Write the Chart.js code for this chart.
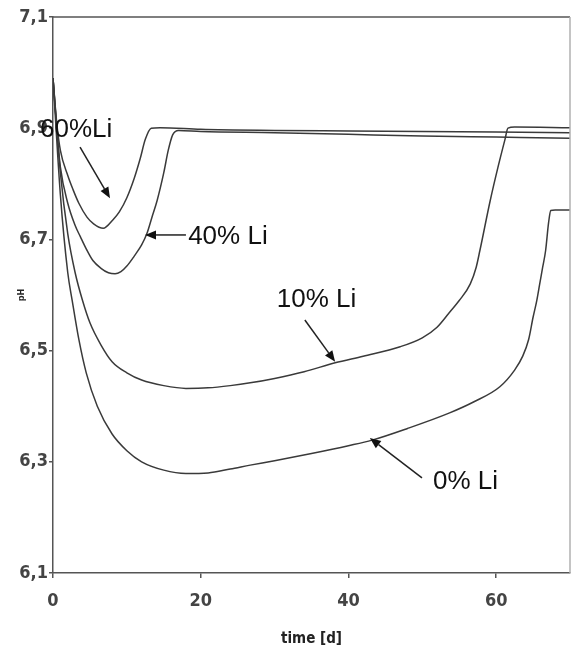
<!DOCTYPE html>
<html>
<head>
<meta charset="utf-8">
<script src="https://cdn.jsdelivr.net/npm/chart.js@4"></script>
<style>
  html, body { margin: 0; padding: 0; background: #fff; }
  canvas { display: block; }
</style>
</head>
<body>
<canvas id="phChart" width="571" height="652"></canvas>
<script>
// ticks
const xTicks = [0, 20, 40, 60];
const yTicks = [6.1, 6.3, 6.5, 6.7, 6.9, 7.1];

// 60% Li
const li60Time = [0, 0.5, 1, 2, 2.7, 3.5, 4.6, 5.5, 6.8, 8.1, 9, 10, 11, 11.8, 12.5, 13.3, 14.5, 20, 30, 40, 50, 60, 70];
const li60Ph = [6.99, 6.91, 6.86, 6.815, 6.79, 6.765, 6.74, 6.728, 6.72, 6.735, 6.75, 6.775, 6.81, 6.845, 6.88, 6.9, 6.901, 6.898, 6.896, 6.895, 6.894, 6.893, 6.892];

// 40% Li
const li40Time = [0, 0.5, 1, 2, 3, 3.7, 4.5, 5.4, 6.5, 7.5, 8.4, 9.2, 10, 11, 12, 12.7, 13.4, 14.1, 15, 15.6, 16.2, 17, 20, 30, 40, 50, 60, 70];
const li40Ph = [6.99, 6.9, 6.83, 6.765, 6.725, 6.705, 6.683, 6.662, 6.648, 6.64, 6.638, 6.642, 6.652, 6.67, 6.69, 6.71, 6.74, 6.77, 6.82, 6.86, 6.888, 6.896, 6.894, 6.892, 6.889, 6.886, 6.884, 6.882];

// 10% Li
const li10Time = [0, 1, 2, 3, 4, 5, 6.5, 8, 10, 12, 15, 18, 21, 24, 26.7, 30, 34, 38.2, 42, 47, 50, 52, 53.7, 55, 56.5, 57.3, 57.8, 59.2, 60.25, 61.2, 61.6, 62.5, 70];
const li10Ph = [6.99, 6.82, 6.71, 6.64, 6.59, 6.55, 6.51, 6.48, 6.46, 6.447, 6.437, 6.432, 6.433, 6.437, 6.442, 6.45, 6.462, 6.478, 6.49, 6.507, 6.523, 6.542, 6.569, 6.59, 6.62, 6.65, 6.68, 6.77, 6.83, 6.88, 6.9, 6.902, 6.901];

// 0% Li
const li0Time = [0, 1, 2, 2.6, 3.5, 4.5, 6, 8, 10, 12, 15, 18, 21, 24, 26.7, 30, 35, 40, 43.2, 48, 53.7, 57, 60.5, 62.5, 63.6, 64.4, 65, 65.5, 65.9, 66.3, 66.7, 67.1, 67.4, 68, 70];
const li0Ph = [6.99, 6.78, 6.64, 6.59, 6.52, 6.46, 6.4, 6.35, 6.32, 6.3, 6.285, 6.279, 6.28, 6.287, 6.294, 6.302, 6.315, 6.329, 6.339, 6.36, 6.388, 6.408, 6.435, 6.465, 6.49, 6.52, 6.56, 6.59, 6.62, 6.65, 6.68, 6.73, 6.752, 6.753, 6.753];

// labels with arrows (placed in data units)
const notes = [
  { text: "60%Li", x: -1.76, y: 6.897, fromX: 3.66, fromY: 6.866, toX: 7.72, toY: 6.774 },
  { text: "40% Li", x: 18.3, y: 6.704, fromX: 18.0, fromY: 6.708, toX: 12.46, toY: 6.708 },
  { text: "10% Li", x: 30.3, y: 6.591, fromX: 34.1, fromY: 6.555, toX: 38.2, toY: 6.48 },
  { text: "0% Li", x: 51.45, y: 6.264, fromX: 49.96, fromY: 6.271, toX: 42.9, toY: 6.343 },
];

function toPoints(xs, ys) {
  return xs.map((x, i) => ({ x: x, y: ys[i] }));
}

function series(label, xs, ys) {
  return {
    label: label,
    data: toPoints(xs, ys),
    borderColor: "#3a3a3a",
    borderWidth: 1.5,
    pointRadius: 0,
    fill: false,
    cubicInterpolationMode: "monotone",
  };
}

const axisColor = "#555";
const narrow = "'DejaVu Sans Condensed', 'DejaVu Sans', sans-serif";
const tickFont = { family: narrow, style: "condensed", size: 18, weight: "bold" };

// frame on top and right side
const framePlugin = {
  id: "frame",
  afterDraw(chart) {
    const ctx = chart.ctx;
    const a = chart.chartArea;
    ctx.save();
    ctx.lineWidth = 1.5;
    ctx.strokeStyle = axisColor;
    ctx.beginPath();
    ctx.moveTo(a.left, a.top);
    ctx.lineTo(a.right, a.top);
    ctx.stroke();
    ctx.strokeStyle = "#b0b0b0";
    ctx.beginPath();
    ctx.moveTo(a.right, a.top);
    ctx.lineTo(a.right, a.bottom);
    ctx.stroke();
    ctx.restore();
  },
};

// text labels and arrows
const notesPlugin = {
  id: "notes",
  afterDraw(chart) {
    const ctx = chart.ctx;
    const xs = chart.scales.x;
    const ys = chart.scales.y;
    ctx.save();
    ctx.fillStyle = "#111";
    ctx.strokeStyle = "#222";
    ctx.font = "26px 'Liberation Sans', Arial, sans-serif";
    ctx.textBaseline = "middle";
    ctx.textAlign = "left";
    for (const n of notes) {
      ctx.fillText(n.text, xs.getPixelForValue(n.x), ys.getPixelForValue(n.y));

      const x1 = xs.getPixelForValue(n.fromX);
      const y1 = ys.getPixelForValue(n.fromY);
      const x2 = xs.getPixelForValue(n.toX);
      const y2 = ys.getPixelForValue(n.toY);
      const ang = Math.atan2(y2 - y1, x2 - x1);
      const head = 11;
      const half = 4.5;
      const bx = x2 - head * Math.cos(ang);
      const by = y2 - head * Math.sin(ang);

      ctx.lineWidth = 1.5;
      ctx.beginPath();
      ctx.moveTo(x1, y1);
      ctx.lineTo(bx, by);
      ctx.stroke();

      ctx.beginPath();
      ctx.moveTo(x2, y2);
      ctx.lineTo(bx + half * Math.sin(ang), by - half * Math.cos(ang));
      ctx.lineTo(bx - half * Math.sin(ang), by + half * Math.cos(ang));
      ctx.closePath();
      ctx.fill();
    }
    ctx.restore();
  },
};

const chart = new Chart(document.getElementById("phChart"), {
  type: "line",
  data: {
    datasets: [
      series("60% Li", li60Time, li60Ph),
      series("40% Li", li40Time, li40Ph),
      series("10% Li", li10Time, li10Ph),
      series("0% Li", li0Time, li0Ph),
    ],
  },
  options: {
    responsive: false,
    animation: false,
    devicePixelRatio: 1,
    layout: { padding: { top: 17, right: 1, left: 0, bottom: 0 } },
    plugins: {
      legend: { display: false },
      tooltip: { enabled: false },
    },
    scales: {
      x: {
        type: "linear",
        min: 0,
        max: 70,
        afterBuildTicks: (s) => {
          s.ticks = xTicks.map((v) => ({ value: v }));
        },
        afterFit: (s) => {
          s.height = 79;
        },
        border: { display: true, color: axisColor, width: 1.5 },
        grid: { display: true, drawOnChartArea: false, drawTicks: true, tickLength: 5, color: axisColor, lineWidth: 1.5 },
        ticks: {
          color: "#444",
          font: tickFont,
          padding: 13,
          maxRotation: 0,
          callback: (v) => String(v),
        },
        title: {
          display: true,
          text: "time [d]",
          color: "#222",
          font: { family: narrow, style: "condensed", size: 15, weight: "bold" },
          padding: { top: 0, bottom: 4 },
        },
      },
      y: {
        type: "linear",
        min: 6.1,
        max: 7.1,
        afterBuildTicks: (s) => {
          s.ticks = yTicks.map((v) => ({ value: v }));
        },
        afterFit: (s) => {
          s.width = 53;
        },
        border: { display: true, color: axisColor, width: 1.5 },
        grid: { display: true, drawOnChartArea: false, drawTicks: true, tickLength: 4, color: axisColor, lineWidth: 1.5 },
        ticks: {
          color: "#444",
          font: tickFont,
          padding: 1,
          callback: (v) => v.toFixed(1).replace(".", ","),
        },
        title: {
          display: true,
          text: "pH",
          color: "#222",
          font: { family: narrow, style: "condensed", size: 9, weight: "bold" },
          padding: { top: 16, bottom: 0 },
        },
      },
    },
  },
  plugins: [framePlugin, notesPlugin],
});
</script>
</body>
</html>
